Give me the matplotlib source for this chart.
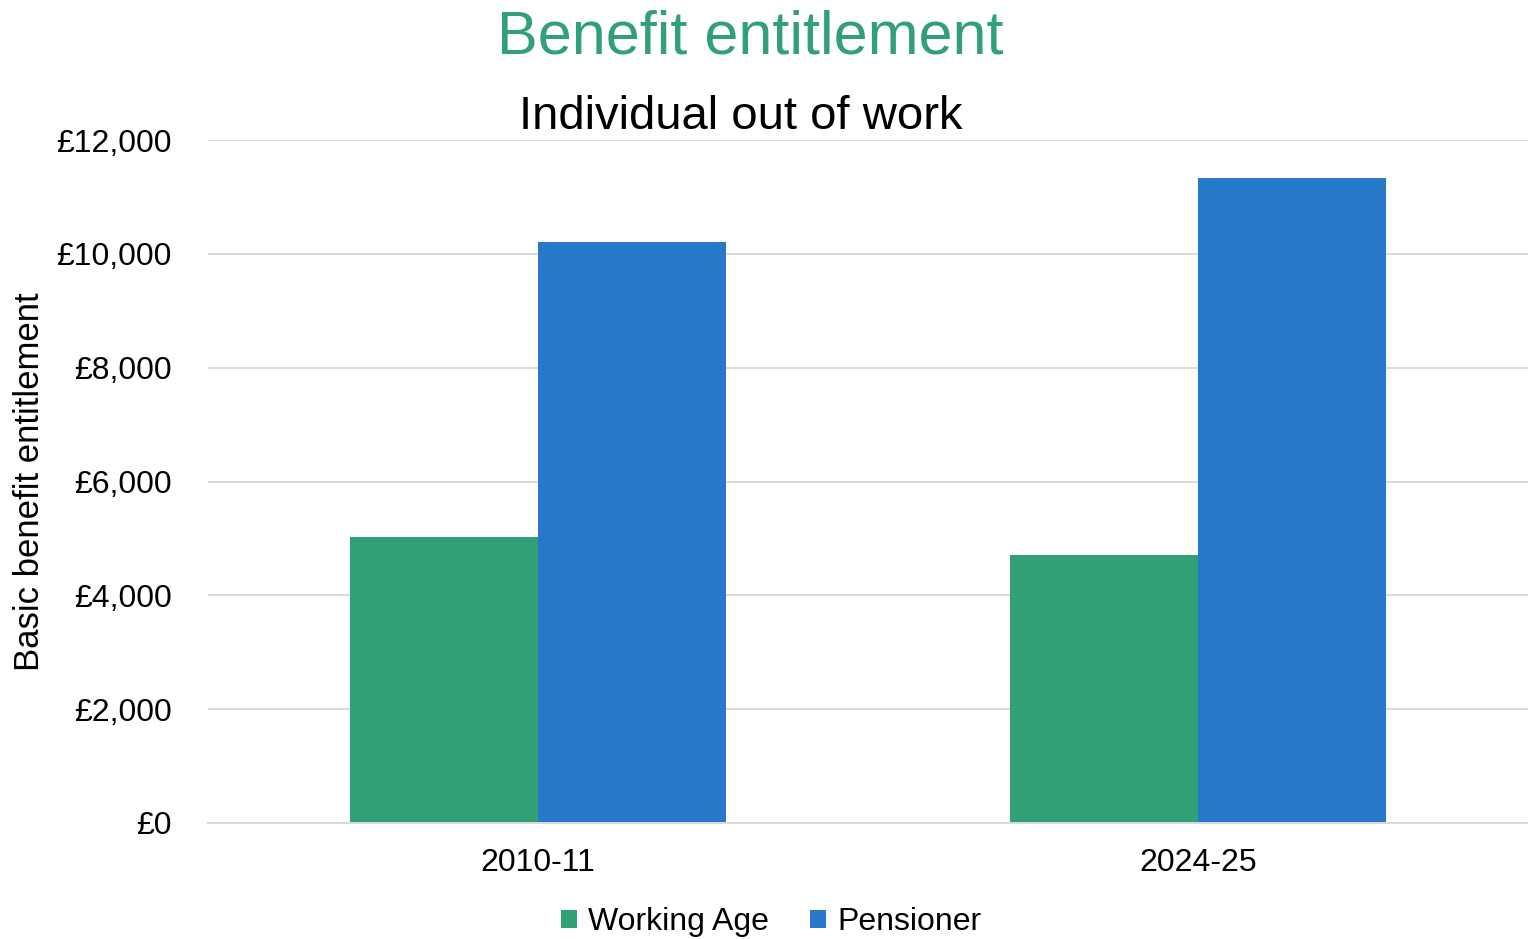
import matplotlib.pyplot as plt
import numpy as np

plt.rcParams['font.family'] = ['Liberation Sans', 'DejaVu Sans']

years = ["2010-11", "2024-25"]
working_age = [5020, 4710]
pensioner = [10200, 11330]
y_ticks = [0, 2000, 4000, 6000, 8000, 10000, 12000]

green = "#31A077"
blue = "#2678C8"

fig = plt.figure(figsize=(15.28, 9.39), dpi=100)
ax = fig.add_axes([208 / 1528, 1 - 823 / 939, 1 - 208 / 1528, (823 - 140) / 939])

x = np.arange(len(years))
w = 0.285
ax.bar(x - w / 2, working_age, width=w, color=green, label="Working Age", zorder=3)
ax.bar(x + w / 2, pensioner, width=w, color=blue, label="Pensioner", zorder=3)

ax.set_xlim(-0.5, 1.5)
ax.set_ylim(0, 12000)
ax.set_yticks(y_ticks)
ax.set_yticklabels([f"£{v:,}" for v in y_ticks])
ax.set_xticks(x)
ax.set_xticklabels(years)
ax.tick_params(axis="y", length=0, pad=26, labelsize=23)
ax.tick_params(axis="x", length=0, pad=18, labelsize=23)
ax.grid(axis="y", color="#D9D9D9", linewidth=1.4, zorder=0)
for s in ["top", "right", "left"]:
    ax.spines[s].set_visible(False)
ax.spines["bottom"].set_color("#D9D9D9")
ax.spines["bottom"].set_linewidth(1.4)
ax.spines["bottom"].set_zorder(4)

ax.set_ylabel("Basic benefit entitlement", fontsize=25)
ax.yaxis.set_label_coords(-(208 - 46) / 1320, 0.5)

fig.text(750 / 1528, 1 - 38 / 939, "Benefit entitlement", color=green,
         fontsize=44, ha="center", va="center")
fig.text(741 / 1528, 1 - 117 / 939, "Individual out of work", color="black",
         fontsize=34, ha="center", va="center")

fig.legend(loc="center", bbox_to_anchor=(771 / 1528, 1 - 922 / 939), ncol=2,
           frameon=False, fontsize=23, handlelength=0.5, handleheight=0.5,
           handletextpad=0.35, columnspacing=1.3, borderpad=0)

fig.savefig("out.png", dpi=100)
